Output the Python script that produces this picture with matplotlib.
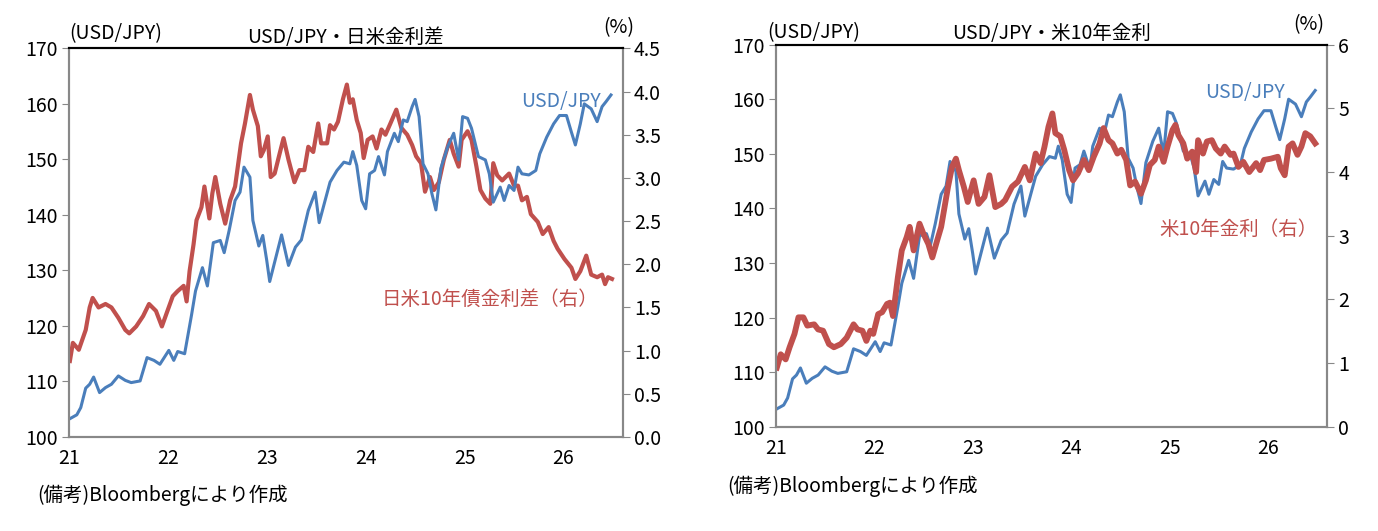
import matplotlib.pyplot as plt
from matplotlib.ticker import FixedLocator

plt.rcParams['font.family'] = ['Noto Sans CJK JP', 'DejaVu Sans']

BLUE = '#4a7ebb'
RED = '#c0504d'

# USD/JPY (weekly-ish readings, x = year 21..26)
usd_t = [21.01, 21.08, 21.12, 21.17, 21.21, 21.25, 21.31, 21.37, 21.43, 21.50,
         21.57, 21.63, 21.72, 21.79, 21.86, 21.92, 22.01, 22.06, 22.10, 22.17,
         22.24, 22.28, 22.35, 22.40, 22.46, 22.53, 22.57, 22.62, 22.68, 22.73,
         22.77, 22.83, 22.86, 22.92, 22.96, 23.00, 23.03, 23.08, 23.15, 23.22,
         23.29, 23.35, 23.42, 23.49, 23.53, 23.59, 23.64, 23.71, 23.78, 23.84,
         23.87, 23.91, 23.96, 24.00, 24.04, 24.09, 24.13, 24.19, 24.22, 24.29,
         24.33, 24.38, 24.42, 24.47, 24.50, 24.54, 24.58, 24.63, 24.67, 24.71,
         24.76, 24.83, 24.89, 24.94, 24.98, 25.03, 25.07, 25.14, 25.21, 25.25,
         25.29, 25.36, 25.40, 25.45, 25.50, 25.54, 25.58, 25.65, 25.72, 25.76,
         25.83, 25.90, 25.96, 26.03, 26.08, 26.12, 26.17, 26.21, 26.28, 26.34,
         26.39, 26.43, 26.48]
usd_v = [103.3, 104.0, 105.3, 108.8, 109.5, 110.8, 108.0, 108.9, 109.5, 111.0,
         110.2, 109.8, 110.1, 114.3, 113.8, 113.1, 115.6, 113.8, 115.4, 115.0,
         122.0, 126.3, 130.5, 127.2, 135.0, 135.4, 133.2, 137.2, 142.6, 144.1,
         148.6, 146.8, 139.0, 134.4, 136.3, 131.8, 128.0, 131.5, 136.4, 130.9,
         134.2, 135.5, 140.8, 144.1, 138.6, 142.6, 145.9, 148.0, 149.5, 149.2,
         151.4, 148.9, 142.6, 141.1, 147.4, 148.0, 150.5, 147.2, 151.4, 154.7,
         153.2, 157.1, 156.8, 159.5, 160.8, 157.7, 149.2, 147.4, 143.8, 140.9,
         148.4, 152.3, 154.7, 149.9, 157.7, 157.4, 155.6, 150.5, 149.9, 147.4,
         142.3, 145.0, 142.6, 145.3, 144.4, 148.6, 147.4, 147.2, 148.0, 151.0,
         154.0, 156.4, 157.9, 157.9, 154.9, 152.6, 156.4, 160.0, 159.1, 156.8,
         159.5, 160.4, 161.6]

# 日米10年債金利差 (%)
spr_t = [21.01, 21.04, 21.10, 21.17, 21.21, 21.24, 21.30, 21.37, 21.43, 21.50,
         21.57, 21.61, 21.68, 21.75, 21.81, 21.88, 21.94, 21.99, 22.05, 22.10,
         22.16, 22.19, 22.22, 22.26, 22.29, 22.34, 22.37, 22.42, 22.45, 22.48,
         22.53, 22.58, 22.63, 22.68, 22.74, 22.78, 22.83, 22.86, 22.91, 22.94,
         22.97, 23.01, 23.04, 23.08, 23.13, 23.17, 23.22, 23.28, 23.33, 23.38,
         23.42, 23.47, 23.52, 23.55, 23.61, 23.64, 23.68, 23.72, 23.77, 23.81,
         23.84, 23.87, 23.91, 23.95, 23.98, 24.02, 24.07, 24.11, 24.16, 24.20,
         24.25, 24.31, 24.36, 24.42, 24.47, 24.51, 24.56, 24.60, 24.65, 24.69,
         24.74, 24.79, 24.85, 24.89, 24.94, 24.97, 25.03, 25.07, 25.12, 25.16,
         25.21, 25.26, 25.29, 25.33, 25.38, 25.45, 25.50, 25.54, 25.58, 25.63,
         25.67, 25.74, 25.79, 25.85, 25.90, 25.94, 26.01, 26.08, 26.12, 26.17,
         26.23, 26.28, 26.34, 26.39, 26.42, 26.45, 26.49]
spr_v = [0.88, 1.09, 1.01, 1.24, 1.50, 1.61, 1.50, 1.54, 1.50, 1.38,
         1.24, 1.20, 1.28, 1.40, 1.54, 1.46, 1.28, 1.44, 1.63, 1.69,
         1.75, 1.57, 1.92, 2.23, 2.51, 2.66, 2.90, 2.53, 2.82, 3.01,
         2.70, 2.47, 2.74, 2.90, 3.40, 3.63, 3.96, 3.79, 3.60, 3.25,
         3.32, 3.48, 3.01, 3.05, 3.28, 3.46, 3.21, 2.95, 3.09, 3.09,
         3.36, 3.30, 3.63, 3.40, 3.40, 3.61, 3.56, 3.65, 3.91, 4.08,
         3.87, 3.91, 3.67, 3.52, 3.23, 3.44, 3.48, 3.34, 3.56, 3.50,
         3.63, 3.79, 3.58, 3.50, 3.38, 3.25, 3.17, 2.84, 3.01, 2.86,
         2.95, 3.21, 3.44, 3.28, 3.13, 3.44, 3.54, 3.44, 3.13, 2.86,
         2.76, 2.70, 3.17, 3.03, 2.97, 3.05, 2.91, 2.91, 2.74, 2.78,
         2.58, 2.49, 2.35, 2.43, 2.27, 2.18, 2.06, 1.96, 1.83, 1.92,
         2.10, 1.88, 1.85, 1.88, 1.77, 1.85, 1.83]

# 米10年金利 (%)
us_t = [21.01, 21.05, 21.10, 21.14, 21.19, 21.23, 21.28, 21.32, 21.39, 21.43,
        21.48, 21.54, 21.59, 21.66, 21.72, 21.79, 21.83, 21.88, 21.92, 21.96,
        21.99, 22.04, 22.08, 22.13, 22.16, 22.19, 22.24, 22.28, 22.33, 22.36,
        22.40, 22.46, 22.50, 22.55, 22.59, 22.64, 22.68, 22.75, 22.79, 22.83,
        22.86, 22.91, 22.95, 23.01, 23.06, 23.12, 23.17, 23.23, 23.29, 23.33,
        23.40, 23.46, 23.53, 23.58, 23.64, 23.69, 23.73, 23.77, 23.81, 23.84,
        23.89, 23.93, 23.98, 24.02, 24.07, 24.13, 24.18, 24.23, 24.29, 24.33,
        24.38, 24.42, 24.47, 24.51, 24.56, 24.60, 24.65, 24.71, 24.76, 24.80,
        24.85, 24.89, 24.94, 24.98, 25.03, 25.06, 25.09, 25.14, 25.18, 25.23,
        25.27, 25.29, 25.34, 25.38, 25.43, 25.47, 25.52, 25.56, 25.62, 25.65,
        25.70, 25.75, 25.81, 25.88, 25.92, 25.96, 26.03, 26.10, 26.13, 26.17,
        26.21, 26.25, 26.30, 26.34, 26.38, 26.43, 26.48]
us_v = [0.93, 1.14, 1.06, 1.25, 1.46, 1.72, 1.72, 1.59, 1.61, 1.53,
        1.51, 1.30, 1.25, 1.30, 1.40, 1.61, 1.53, 1.51, 1.35, 1.51,
        1.46, 1.77, 1.80, 1.93, 1.95, 1.74, 2.35, 2.77, 2.98, 3.14,
        2.77, 3.19, 3.03, 2.87, 2.66, 2.93, 3.14, 3.77, 4.08, 4.21,
        4.03, 3.77, 3.53, 3.87, 3.50, 3.61, 3.95, 3.45, 3.50, 3.56,
        3.77, 3.85, 4.08, 3.87, 4.29, 4.14, 4.40, 4.71, 4.92, 4.61,
        4.56, 4.35, 4.03, 3.87, 3.98, 4.19, 4.03, 4.24, 4.45, 4.69,
        4.50, 4.45, 4.29, 4.35, 4.19, 3.79, 3.85, 3.66, 3.87, 4.11,
        4.19, 4.40, 4.16, 4.40, 4.66, 4.74, 4.58, 4.45, 4.21, 4.32,
        4.00, 4.50, 4.29, 4.48, 4.50, 4.37, 4.29, 4.40, 4.27, 4.29,
        4.08, 4.16, 4.00, 4.14, 4.03, 4.19, 4.21, 4.24, 4.06, 3.95,
        4.40, 4.45, 4.27, 4.40, 4.61, 4.56, 4.45]

x_ticks = [21, 22, 23, 24, 25, 26]
usd_ticks = [100, 110, 120, 130, 140, 150, 160, 170]
spr_ticks = [0.0, 0.5, 1.0, 1.5, 2.0, 2.5, 3.0, 3.5, 4.0, 4.5]
us_ticks = [0, 1, 2, 3, 4, 5, 6]

FS = 14
fig = plt.figure(figsize=(13.78, 5.31), dpi=100)


def style(ax, ax2):
    for a in (ax, ax2):
        for s in ('left', 'right', 'bottom'):
            a.spines[s].set_color('#888888')
            a.spines[s].set_linewidth(1.5)
        a.spines['top'].set_color('black')
        a.spines['top'].set_linewidth(1.5)
    ax.set_xlim(21, 26.6)
    ax.xaxis.set_major_locator(FixedLocator(x_ticks))
    ax.tick_params(axis='x', length=0, pad=8, labelsize=FS)
    ax.tick_params(axis='y', direction='out', length=5, color='#888888', labelsize=FS, pad=3)
    ax2.tick_params(axis='y', direction='out', length=5, color='#888888', labelsize=FS, pad=3)


# ---- left panel
ax = fig.add_axes([0.050, 0.177, 0.402, 0.732])
ax2 = ax.twinx()
ax.plot(usd_t, usd_v, color=BLUE, lw=2.2)
ax2.plot(spr_t, spr_v, color=RED, lw=3.0)
ax.set_zorder(ax2.get_zorder() + 1)
ax.patch.set_visible(False)
ax.set_ylim(100, 170)
ax.set_yticks(usd_ticks)
ax2.set_ylim(0, 4.5)
ax2.set_yticks(spr_ticks)
ax2.set_yticklabels([f'{v:.1f}' for v in spr_ticks])
style(ax, ax2)
ax.set_title('USD/JPY・日米金利差', fontsize=FS, pad=4)
ax.text(0.0, 1.01, '(USD/JPY)', transform=ax.transAxes, fontsize=FS, ha='left', va='bottom')
ax.text(1.02, 1.025, '(%)', transform=ax.transAxes, fontsize=FS, ha='right', va='bottom')
ax.text(26.38, 160.5, 'USD/JPY', color=BLUE, fontsize=FS, ha='right', va='center')
ax2.text(26.35, 1.59, '日米10年債金利差（右）', color=RED, fontsize=FS, ha='right', va='center')
fig.text(0.027, 0.067, '(備考)Bloombergにより作成', fontsize=FS, ha='left', va='center')

# ---- right panel
bx = fig.add_axes([0.563, 0.196, 0.400, 0.72])
bx2 = bx.twinx()
bx.plot(usd_t, usd_v, color=BLUE, lw=2.2)
bx2.plot(us_t, us_v, color=RED, lw=4.2)
bx.set_ylim(100, 170)
bx.set_yticks(usd_ticks)
bx2.set_ylim(0, 6)
bx2.set_yticks(us_ticks)
style(bx, bx2)
bx.set_title('USD/JPY・米10年金利', fontsize=FS, pad=4)
bx.text(-0.015, 1.005, '(USD/JPY)', transform=bx.transAxes, fontsize=FS, ha='left', va='bottom')
bx.text(0.995, 1.025, '(%)', transform=bx.transAxes, fontsize=FS, ha='right', va='bottom')
bx.text(26.17, 161.2, 'USD/JPY', color=BLUE, fontsize=FS, ha='right', va='center')
bx2.text(26.5, 3.1, '米10年金利（右）', color=RED, fontsize=FS, ha='right', va='center')
fig.text(0.528, 0.085, '(備考)Bloombergにより作成', fontsize=FS, ha='left', va='center')

fig.savefig('out.png', dpi=100)
